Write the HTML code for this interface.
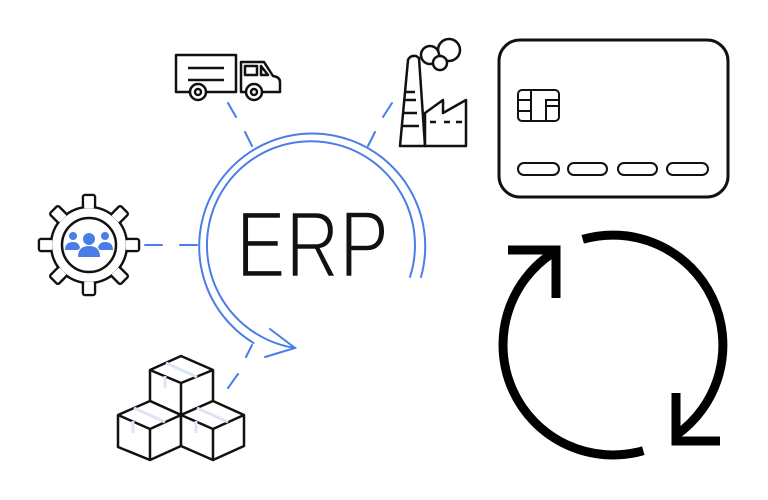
<!DOCTYPE html>
<html><head><meta charset="utf-8"><style>
html,body{margin:0;padding:0;background:#fff;width:768px;height:500px;overflow:hidden}
svg{display:block}
</style></head><body>
<svg width="768" height="500" viewBox="0 0 768 500" xmlns="http://www.w3.org/2000/svg">
<!-- ERP ring -->
<g fill="none" stroke="#4a7ee6" stroke-width="2" stroke-linecap="round">
<path d="M421,277 A113,113 0 1 0 253.5,343"/>
<path d="M410,277 A104,104 0 1 0 295,348"/>
<path d="M270,329 L295,348 L265,357"/>
<path d="M228,103 L236,117 M245,132 L252,146"/>
<path d="M392,103 L383,117 M375,132 L368,146"/>
<path d="M145,245 L162,245 M180,245 L197,245"/>
<path d="M252,345 L246,357 M238,374 L228,388"/>
</g>
<text x="236" y="277" font-family="Liberation Sans, sans-serif" font-size="95" fill="#111" stroke="#fff" stroke-width="2.6" textLength="153" lengthAdjust="spacingAndGlyphs">ERP</text>

<!-- Truck -->
<g fill="#fff" stroke="#111" stroke-width="2.5" stroke-linejoin="round">
<rect x="176" y="55" width="60" height="37"/>
<path d="M188,68 H224 M188,80 H224" fill="none"/>
<path d="M241,92 V62 H264 L273,76 Q280,77 280,82 V92 Z"/>
<path d="M245,66 H257 V75 H245 Z M261,66 L268,75 H261 Z" fill="none"/>
<circle cx="198" cy="92" r="8"/><circle cx="198" cy="92" r="3"/>
<circle cx="254" cy="92" r="8"/><circle cx="254" cy="92" r="3"/>
</g>

<!-- Factory -->
<g fill="#fff" stroke="#111" stroke-width="2.5" stroke-linejoin="round">
<circle cx="449" cy="50" r="11"/>
<circle cx="430" cy="55" r="9"/>
<circle cx="440" cy="63" r="7"/>
<path d="M400,146 L408,60 Q410,55 416,56 L419,58 L425,146 Z"/>
<path d="M403,113 H417 M402,126 H419 M405,92 H415 M404,100 H416" fill="none"/>
<path d="M425,146 V113 L443,100 V113 L466,100 V146 Z"/>
<path d="M430,122 H436 M444,122 H450 M456,122 H462" fill="none"/>
</g>

<!-- Gear -->
<g transform="translate(89,245)" stroke="#111" stroke-width="2.5" stroke-linejoin="round" fill="#fff">
<g>
<rect x="-6" y="-50" width="12" height="20" rx="2"/>
<rect x="-6" y="-50" width="12" height="20" rx="2" transform="rotate(45)"/>
<rect x="-6" y="-50" width="12" height="20" rx="2" transform="rotate(90)"/>
<rect x="-6" y="-50" width="12" height="20" rx="2" transform="rotate(135)"/>
<rect x="-6" y="-50" width="12" height="20" rx="2" transform="rotate(180)"/>
<rect x="-6" y="-50" width="12" height="20" rx="2" transform="rotate(225)"/>
<rect x="-6" y="-50" width="12" height="20" rx="2" transform="rotate(270)"/>
<rect x="-6" y="-50" width="12" height="20" rx="2" transform="rotate(315)"/>
</g>
<circle r="38"/>
<circle r="27"/>
<g fill="#4a7ee6" stroke="none">
<circle cx="0" cy="-6" r="6"/>
<path d="M-11,12 Q-11,1 0,1 Q11,1 11,12 Z"/>
<circle cx="-16" cy="-9" r="4"/>
<path d="M-24,5 Q-24,-3 -16,-3 Q-10,-3 -9,3 L-11,5 Z"/>
<circle cx="16" cy="-9" r="4"/>
<path d="M24,5 Q24,-3 16,-3 Q10,-3 9,3 L11,5 Z"/>
</g>
</g>
<g transform="translate(89,245)" fill="#fff" stroke="none">
<rect x="-4.8" y="-48.8" width="9.6" height="12" />
<rect x="-4.8" y="-48.8" width="9.6" height="12" transform="rotate(45)"/>
<rect x="-4.8" y="-48.8" width="9.6" height="12" transform="rotate(90)"/>
<rect x="-4.8" y="-48.8" width="9.6" height="12" transform="rotate(135)"/>
<rect x="-4.8" y="-48.8" width="9.6" height="12" transform="rotate(180)"/>
<rect x="-4.8" y="-48.8" width="9.6" height="12" transform="rotate(225)"/>
<rect x="-4.8" y="-48.8" width="9.6" height="12" transform="rotate(270)"/>
<rect x="-4.8" y="-48.8" width="9.6" height="12" transform="rotate(315)"/>
</g>

<!-- Boxes -->
<g fill="#fff" stroke="#111" stroke-width="2.5" stroke-linejoin="round">
<path d="M150,370 L181,356 L213,370 L213,401 L181,415 L150,401 Z"/>
<path d="M150,370 L181,383 L213,370 M181,383 V415" fill="none"/>
<path d="M118,415 L150,401 L181,415 L181,446 L150,460 L118,447 Z"/>
<path d="M118,415 L150,429 L181,415 M150,429 V460" fill="none"/>
<path d="M181,415 L213,401 L244,415 L244,446 L213,460 L181,446 Z"/>
<path d="M181,415 L213,429 L244,415 M213,429 V460" fill="none"/>
</g>
<g stroke="#dbe5f8" stroke-width="3" fill="none">
<path d="M166,363 L197,377 M165,376 V388"/>
<path d="M134,408 L165,422 M133,421 V433"/>
<path d="M197,408 L228,422 M196,421 V433"/>
</g>

<!-- Card -->
<rect x="499" y="40" width="229" height="157" rx="21" fill="none" stroke="#111" stroke-width="3"/>
<g fill="none" stroke="#111" stroke-width="2">
<rect x="518" y="90" width="41" height="31" rx="4"/>
<path d="M531,90 V121 M546,121 V106 H559 M518,100 H531 M518,111 H531 M546,106 V100 H559"/>
<rect x="518" y="163" width="41" height="12" rx="6"/>
<rect x="568" y="163" width="39" height="12" rx="6"/>
<rect x="618" y="163" width="39" height="12" rx="6"/>
<rect x="667" y="163" width="41" height="12" rx="6"/>
</g>

<!-- Refresh -->
<g fill="none" stroke="#000" stroke-width="9">
<path d="M582.7,239.3 A110,110 0 0 1 676.1,435.1"/>
<path d="M643.3,450.7 A110,110 0 0 1 553.1,252.7"/>
<path d="M508,250 H556 V298" stroke-linejoin="miter"/>
<path d="M676,393 V441 H720" stroke-linejoin="miter"/>
</g>
</svg>
</body></html>
